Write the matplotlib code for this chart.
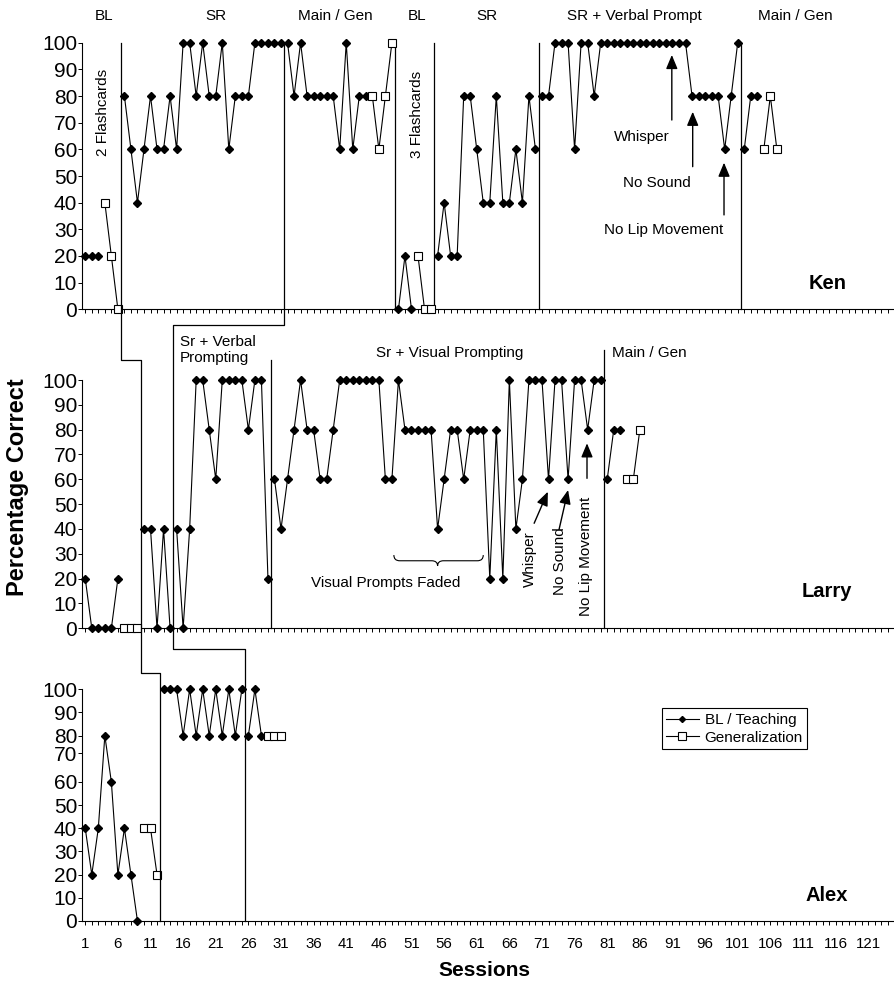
import numpy as np
import matplotlib
matplotlib.use("Agg")
import matplotlib.pyplot as plt
from matplotlib.lines import Line2D
from matplotlib.path import Path
from matplotlib.patches import PathPatch
from matplotlib.transforms import blended_transform_factory

plt.rcParams["font.family"] = ["Liberation Sans", "DejaVu Sans"]

# ---------------- data ----------------
KEN_TEACH_SESSIONS = [1, 2, 3] + list(range(7, 45)) + [49, 50, 51] + list(range(55, 105))
KEN_TEACH_VALUES = (
    [20, 20, 20]
    + [80, 60, 40, 60, 80, 60, 60, 80, 60, 100,
       100, 80, 100, 80, 80, 100, 60, 80, 80, 80,
       100, 100, 100, 100, 100, 100, 80, 100, 80, 80,
       80, 80, 80, 60, 100, 60, 80, 80]
    + [0, 20, 0]
    + [20, 40, 20, 20, 80, 80, 60, 40, 40, 80, 40, 40, 60, 40, 80, 60,
       80, 80, 100, 100, 100, 60, 100, 100, 80,
       100, 100, 100, 100, 100, 100, 100, 100, 100, 100, 100, 100, 100, 100,
       80, 80, 80, 80, 80, 60, 80, 100,
       60, 80, 80]
)
KEN_GEN_SESSIONS = [4, 5, 6, 45, 46, 47, 48, 52, 53, 54, 105, 106, 107]
KEN_GEN_VALUES = [40, 20, 0, 80, 60, 80, 100, 20, 0, 0, 60, 80, 60]
KEN_PHASES = [6.5, 31.5, 48.5, 54.5, 70.5, 101.5]

LARRY_TEACH_SESSIONS = list(range(1, 7)) + list(range(10, 84))
LARRY_TEACH_VALUES = (
    [20, 0, 0, 0, 0, 20]
    + [40, 40, 0, 40, 0]
    + [40, 0, 40, 100, 100, 80, 60, 100, 100, 100, 100, 80, 100, 100, 20]
    + [60, 40, 60, 80, 100, 80, 80, 60, 60, 80,
       100, 100, 100, 100, 100, 100, 100, 60, 60, 100,
       80, 80, 80, 80, 80, 40, 60, 80, 80, 60,
       80, 80, 80, 20, 80, 20, 100, 40, 60, 100,
       100, 100, 60, 100, 100, 60, 100, 100, 80, 100, 100]
    + [60, 80, 80]
)
LARRY_GEN_SESSIONS = [7, 8, 9, 84, 85, 86]
LARRY_GEN_VALUES = [0, 0, 0, 60, 60, 80]
LARRY_PHASES = [9.5, 14.5, 29.5, 80.5]

ALEX_TEACH_SESSIONS = list(range(1, 10)) + list(range(13, 29))
ALEX_TEACH_VALUES = (
    [40, 20, 40, 80, 60, 20, 40, 20, 0]
    + [100, 100, 100, 80, 100, 80, 100, 80, 100, 80, 100, 80, 100, 80, 100, 80]
)
ALEX_GEN_SESSIONS = [10, 11, 12, 29, 30, 31]
ALEX_GEN_VALUES = [40, 40, 20, 80, 80, 80]
ALEX_PHASES = [12.5, 25.5]

Y_TICKS = [0, 10, 20, 30, 40, 50, 60, 70, 80, 90, 100]
ALEX_Y_TICK_POS = [0, 10, 20, 30, 40, 50, 60, 72.4, 80, 90, 100]
X_LABEL_TICKS = list(range(1, 122, 5))

TEACH_STYLE = dict(color="black", lw=0.8, marker="D", ms=3.6, mfc="black", mec="black", zorder=3)
GEN_STYLE = dict(color="black", lw=0.8, marker="s", ms=6, mfc="white", mec="black", mew=0.8, zorder=4)

FIG_W, FIG_H = 894, 984
AX_LEFT, AX_RIGHT = 82, 893


def panel_rect(top_px, bottom_px):
    return [AX_LEFT / FIG_W, 1 - bottom_px / FIG_H,
            (AX_RIGHT - AX_LEFT) / FIG_W, (bottom_px - top_px) / FIG_H]


def plot_series(ax, sessions, values, phases, style):
    """Plot a series, breaking the line at gaps and phase changes."""
    s = np.asarray(sessions, dtype=float)
    v = np.asarray(values, dtype=float)
    cuts = [0]
    for i in range(1, len(s)):
        gap = s[i] - s[i - 1] > 1
        crosses = any(s[i - 1] < p < s[i] for p in phases)
        if gap or crosses:
            cuts.append(i)
    cuts.append(len(s))
    for a, b in zip(cuts[:-1], cuts[1:]):
        ax.plot(s[a:b], v[a:b], clip_on=False, **style)


def setup_axes(ax, show_xlabels, ytick_pos=Y_TICKS):
    ax.set_xlim(0.5, 124.8)
    ax.set_ylim(0, 100)
    for side in ("top", "right"):
        ax.spines[side].set_visible(False)
    for side in ("left", "bottom"):
        ax.spines[side].set_linewidth(0.8)
    ticks = np.arange(1, 125)
    ax.set_xticks(ticks)
    if show_xlabels:
        ax.set_xticklabels([str(t) if t in X_LABEL_TICKS else "" for t in ticks])
    else:
        ax.set_xticklabels([])
    ax.tick_params(axis="x", direction="out", length=3, width=0.7, labelsize=10.8, pad=8.5)
    ax.set_yticks(ytick_pos)
    ax.set_yticklabels([str(t) for t in Y_TICKS])
    ax.tick_params(axis="y", direction="out", length=3, width=0.7, labelsize=15, pad=0.5)


def arrow(ax, tail, tip):
    ax.annotate("", xy=tip, xytext=tail, annotation_clip=False,
                arrowprops=dict(arrowstyle="-|>,head_length=0.6,head_width=0.25",
                                color="black", lw=1, mutation_scale=14,
                                shrinkA=0, shrinkB=0))


fig = plt.figure(figsize=(FIG_W / 100, FIG_H / 100), dpi=100)
ax_ken = fig.add_axes(panel_rect(42.7, 309.3))
ax_larry = fig.add_axes(panel_rect(380, 628.3))
ax_alex = fig.add_axes(panel_rect(689.3, 921))

setup_axes(ax_ken, False)
setup_axes(ax_larry, False)
setup_axes(ax_alex, True, ALEX_Y_TICK_POS)

plot_series(ax_ken, KEN_TEACH_SESSIONS, KEN_TEACH_VALUES, KEN_PHASES, TEACH_STYLE)
plot_series(ax_ken, KEN_GEN_SESSIONS, KEN_GEN_VALUES, KEN_PHASES, GEN_STYLE)
plot_series(ax_larry, LARRY_TEACH_SESSIONS, LARRY_TEACH_VALUES, LARRY_PHASES, TEACH_STYLE)
plot_series(ax_larry, LARRY_GEN_SESSIONS, LARRY_GEN_VALUES, LARRY_PHASES, GEN_STYLE)
plot_series(ax_alex, ALEX_TEACH_SESSIONS, ALEX_TEACH_VALUES, ALEX_PHASES, TEACH_STYLE)
plot_series(ax_alex, ALEX_GEN_SESSIONS, ALEX_GEN_VALUES, ALEX_PHASES, GEN_STYLE)

# phase change lines inside single panels
for x in KEN_PHASES[2:]:
    ax_ken.plot([x, x], [0, 100], color="black", lw=0.9, clip_on=False)
ax_larry.plot([29.5, 29.5], [0, 108], color="black", lw=0.9, clip_on=False)
ax_larry.plot([80.5, 80.5], [0, 112], color="black", lw=0.9, clip_on=False)


# multiple-baseline staircase lines across panels
def fig_y(ax, v):
    p = ax.get_position()
    return p.y0 + p.height * v / 100


trans = blended_transform_factory(ax_ken.transData, fig.transFigure)
stair1_x = [6.5, 6.5, 9.5, 9.5, 12.5, 12.5]
stair1_y = [fig_y(ax_ken, 100), fig_y(ax_larry, 108), fig_y(ax_larry, 108),
            fig_y(ax_alex, 107), fig_y(ax_alex, 107), fig_y(ax_alex, 0)]
stair2_x = [31.5, 31.5, 14.5, 14.5, 25.5, 25.5]
stair2_y = [fig_y(ax_ken, 100), fig_y(ax_larry, 122), fig_y(ax_larry, 122),
            fig_y(ax_alex, 117.4), fig_y(ax_alex, 117.4), fig_y(ax_alex, 0)]
for xs, ys in ((stair1_x, stair1_y), (stair2_x, stair2_y)):
    fig.add_artist(Line2D(xs, ys, transform=trans, color="black", lw=0.9))

# Ken texts
for label, x in [("BL", 2.5), ("SR", 19.35), ("Main / Gen", 33.65), ("BL", 50.5),
                 ("SR", 61.0), ("SR + Verbal Prompt", 74.8), ("Main / Gen", 104.15)]:
    ax_ken.text(x, 110, label, ha="left", va="center", fontsize=11)
ax_ken.text(3.76, 74, "2 Flashcards", rotation=90, ha="center", va="center", fontsize=11)
ax_ken.text(51.8, 73, "3 Flashcards", rotation=90, ha="center", va="center", fontsize=11)
ax_ken.text(86.3, 64.7, "Whisper", ha="center", va="center", fontsize=11)
ax_ken.text(88.6, 47.2, "No Sound", ha="center", va="center", fontsize=11)
ax_ken.text(89.6, 29.7, "No Lip Movement", ha="center", va="center", fontsize=11)
arrow(ax_ken, (90.9, 71), (90.9, 95.4))
arrow(ax_ken, (94.1, 53.5), (94.1, 74.1))
arrow(ax_ken, (98.9, 35.4), (98.9, 55))
ax_ken.text(114.75, 9.8, "Ken", ha="center", va="center", fontsize=14.5, weight="bold")

# Larry texts
ax_larry.text(15.5, 112, "Sr + Verbal\nPrompting", ha="left", va="center", fontsize=11,
              linespacing=1.15)
ax_larry.text(45.5, 110.7, "Sr + Visual Prompting", ha="left", va="center", fontsize=11)
ax_larry.text(81.8, 111, "Main / Gen", ha="left", va="center", fontsize=11)
ax_larry.text(47.0, 18.1, "Visual Prompts Faded", ha="center", va="center", fontsize=11)
ax_larry.text(69.1, 28, "Whisper", rotation=90, ha="center", va="center", fontsize=11)
ax_larry.text(73.7, 27.2, "No Sound", rotation=90, ha="center", va="center", fontsize=11)
ax_larry.text(77.7, 28.8, "No Lip Movement", rotation=90, ha="center", va="center", fontsize=11)
arrow(ax_larry, (69.8, 42.3), (71.9, 55))
arrow(ax_larry, (73.6, 39.6), (75.0, 55.7))
arrow(ax_larry, (77.9, 60.4), (77.9, 74.5))
ax_larry.text(114.6, 14.7, "Larry", ha="center", va="center", fontsize=14.5, weight="bold")

# curly brace over the faded sessions
bx0, bx1, bxc = 48.3, 62.0, 55.0
by_top, by_mid, by_tip = 29.5, 27.2, 25.1
d = 0.9
verts = [(bx0, by_top), (bx0, by_mid), (bx0 + d, by_mid), (bxc - d, by_mid),
         (bxc, by_mid), (bxc, by_tip), (bxc, by_mid), (bxc + d, by_mid),
         (bx1 - d, by_mid), (bx1, by_mid), (bx1, by_top)]
codes = [Path.MOVETO, Path.CURVE3, Path.CURVE3, Path.LINETO,
         Path.CURVE3, Path.CURVE3, Path.CURVE3, Path.CURVE3,
         Path.LINETO, Path.CURVE3, Path.CURVE3]
ax_larry.add_patch(PathPatch(Path(verts, codes), fill=False, lw=0.8, color="black"))

# Alex texts and legend
ax_alex.text(114.6, 11.2, "Alex", ha="center", va="center", fontsize=14.5, weight="bold")
handles = [Line2D([], [], **{k: v for k, v in TEACH_STYLE.items() if k != "zorder"}),
           Line2D([], [], **{k: v for k, v in GEN_STYLE.items() if k != "zorder"})]
leg = ax_alex.legend(handles, ["BL / Teaching", "Generalization"], loc="lower left",
                     bbox_to_anchor=(0.715, 0.741), bbox_transform=ax_alex.transAxes,
                     fontsize=11, frameon=True, fancybox=False, framealpha=1,
                     edgecolor="black", borderpad=0.3, handlelength=2.1,
                     handletextpad=0.4, labelspacing=0.25, borderaxespad=0,
                     markerscale=0.85)
leg.get_frame().set_linewidth(0.8)

fig.text(18 / FIG_W, 1 - 487 / FIG_H, "Percentage Correct", rotation=90,
         ha="center", va="center", fontsize=17, weight="bold")
fig.text(484 / FIG_W, 1 - 970 / FIG_H, "Sessions", ha="center", va="center",
         fontsize=15, weight="bold")

fig.savefig("out.png", dpi=100)
plt.close(fig)
